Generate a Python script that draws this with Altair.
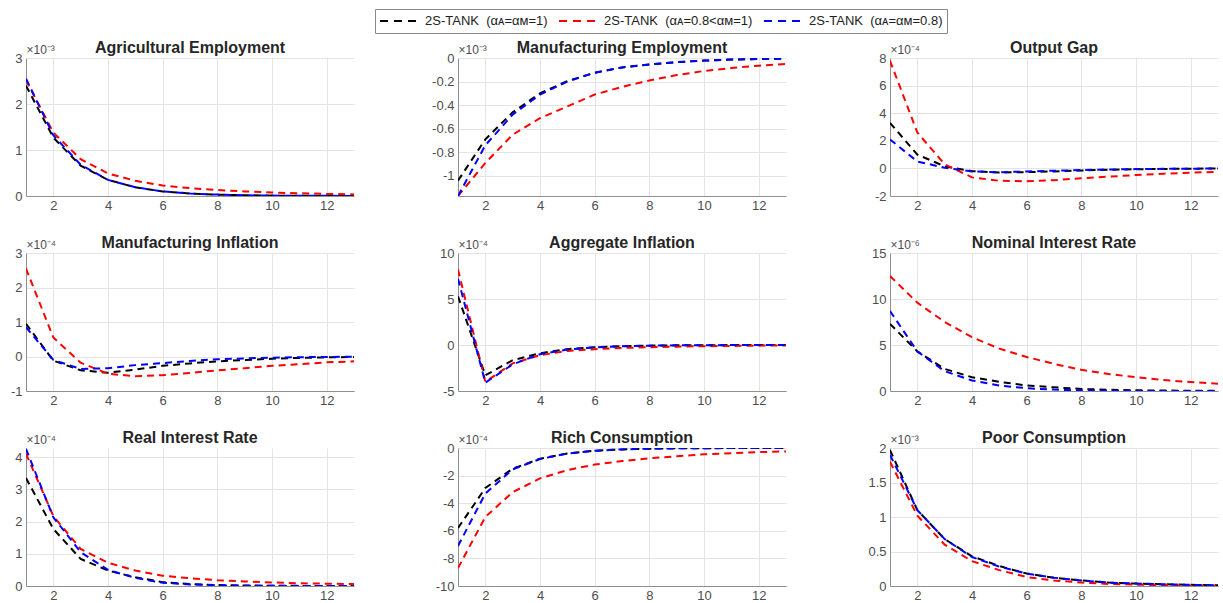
import altair as alt
import pandas as pd

# ---------------- data ----------------
periods = list(range(1, 14))
series_names = [
    "2S-TANK\u00a0 (\u03b1\u1d00=\u03b1\u1d0d=1)",
    "2S-TANK\u00a0 (\u03b1\u1d00=0.8<\u03b1\u1d0d=1)",
    "2S-TANK\u00a0 (\u03b1\u1d00=\u03b1\u1d0d=0.8)",
]
series_colors = ["#000000", "#ff0000", "#0000ff"]

panel_titles = [
    "Agricultural Employment", "Manufacturing Employment", "Output Gap",
    "Manufacturing Inflation", "Aggregate Inflation", "Nominal Interest Rate",
    "Real Interest Rate", "Rich Consumption", "Poor Consumption",
]
panel_exponents = ["\u207b\u00b3", "\u207b\u00b3", "\u207b\u2074",
                   "\u207b\u2074", "\u207b\u2074", "\u207b\u2076",
                   "\u207b\u2074", "\u207b\u2074", "\u207b\u00b3"]
panel_domains = [[0, 3], [-1.17, 0], [-2, 8],
                 [-1, 3], [-5, 10], [0, 15],
                 [0, 4.28], [-10, 0], [0, 2]]
panel_ticks = [[0, 1, 2, 3], [-1, -0.8, -0.6, -0.4, -0.2, 0], [-2, 0, 2, 4, 6, 8],
               [-1, 0, 1, 2, 3], [-5, 0, 5, 10], [0, 5, 10, 15],
               [0, 1, 2, 3, 4], [-10, -8, -6, -4, -2, 0], [0, 0.5, 1, 1.5, 2]]
x_ticks = [2, 4, 6, 8, 10, 12]

agri_black = [2.40, 1.27, 0.66, 0.35, 0.19, 0.10, 0.055, 0.030, 0.016, 0.009, 0.005, 0.003, 0.002]
agri_red   = [2.52, 1.38, 0.80, 0.49, 0.33, 0.23, 0.17, 0.13, 0.10, 0.075, 0.06, 0.045, 0.035]
agri_blue  = [2.55, 1.32, 0.68, 0.35, 0.19, 0.10, 0.055, 0.030, 0.016, 0.009, 0.005, 0.003, 0.002]

manu_black = [-1.04, -0.69, -0.46, -0.30, -0.195, -0.125, -0.08, -0.055, -0.035, -0.022, -0.013, -0.008, -0.005]
manu_red   = [-1.17, -0.89, -0.65, -0.51, -0.41, -0.31, -0.245, -0.19, -0.145, -0.11, -0.085, -0.065, -0.05]
manu_blue  = [-1.17, -0.74, -0.48, -0.31, -0.20, -0.125, -0.08, -0.055, -0.035, -0.022, -0.013, -0.008, -0.005]

gap_black = [3.3, 1.0, 0.15, -0.2, -0.3, -0.27, -0.22, -0.15, -0.10, -0.06, -0.04, -0.02, -0.01]
gap_red   = [7.8, 2.6, 0.3, -0.65, -0.9, -0.93, -0.85, -0.72, -0.6, -0.48, -0.38, -0.31, -0.25]
gap_blue  = [2.1, 0.5, 0.05, -0.22, -0.28, -0.22, -0.17, -0.12, -0.08, -0.05, -0.03, -0.02, -0.01]

minf_black = [0.95, -0.12, -0.40, -0.47, -0.38, -0.27, -0.20, -0.14, -0.10, -0.065, -0.04, -0.025, -0.015]
minf_red   = [2.55, 0.55, -0.18, -0.50, -0.57, -0.54, -0.48, -0.40, -0.34, -0.27, -0.22, -0.17, -0.14]
minf_blue  = [0.85, -0.10, -0.36, -0.34, -0.25, -0.19, -0.13, -0.08, -0.055, -0.035, -0.02, -0.012, -0.007]

agg_black = [5.3, -3.3, -1.65, -0.9, -0.45, -0.25, -0.13, -0.07, -0.04, -0.02, -0.01, -0.005, -0.003]
agg_red   = [8.2, -4.0, -2.0, -1.1, -0.65, -0.45, -0.32, -0.24, -0.18, -0.13, -0.10, -0.07, -0.05]
agg_blue  = [7.2, -4.1, -2.1, -1.0, -0.5, -0.25, -0.13, -0.07, -0.04, -0.02, -0.01, -0.005, -0.003]

nom_black = [7.3, 4.3, 2.4, 1.5, 1.0, 0.6, 0.4, 0.22, 0.13, 0.08, 0.05, 0.03, 0.02]
nom_red   = [12.5, 9.6, 7.5, 5.85, 4.6, 3.7, 2.95, 2.3, 1.85, 1.5, 1.2, 0.97, 0.8]
nom_blue  = [8.7, 4.3, 2.15, 1.15, 0.6, 0.3, 0.15, 0.07, 0.03, 0.01, 0.005, 0.002, 0.001]

real_black = [3.35, 1.77, 0.84, 0.48, 0.27, 0.12, 0.06, 0.03, 0.015, 0.008, 0.004, 0.002, 0.001]
real_red   = [4.1, 2.17, 1.15, 0.72, 0.48, 0.32, 0.24, 0.18, 0.14, 0.11, 0.085, 0.07, 0.06]
real_blue  = [4.25, 2.13, 1.05, 0.5, 0.25, 0.1, 0.05, 0.02, 0.01, 0.005, 0.002, 0.001, 0.0]

rich_black = [-5.8, -2.9, -1.5, -0.78, -0.4, -0.2, -0.1, -0.05, -0.025, -0.012, -0.006, -0.003, -0.002]
rich_red   = [-8.7, -5.0, -3.2, -2.2, -1.6, -1.2, -0.95, -0.75, -0.6, -0.46, -0.38, -0.3, -0.25]
rich_blue  = [-7.1, -3.3, -1.55, -0.8, -0.4, -0.2, -0.1, -0.05, -0.025, -0.012, -0.006, -0.003, -0.002]

poor_black = [1.97, 1.10, 0.68, 0.43, 0.29, 0.18, 0.12, 0.08, 0.05, 0.035, 0.025, 0.017, 0.01]
poor_red   = [1.80, 1.02, 0.60, 0.36, 0.23, 0.13, 0.08, 0.05, 0.03, 0.02, 0.01, 0.005, 0.003]
poor_blue  = [1.90, 1.10, 0.68, 0.42, 0.28, 0.18, 0.12, 0.08, 0.05, 0.035, 0.025, 0.017, 0.01]

panel_series = [
    (agri_black, agri_red, agri_blue),
    (manu_black, manu_red, manu_blue),
    (gap_black, gap_red, gap_blue),
    (minf_black, minf_red, minf_blue),
    (agg_black, agg_red, agg_blue),
    (nom_black, nom_red, nom_blue),
    (real_black, real_red, real_blue),
    (rich_black, rich_red, rich_blue),
    (poor_black, poor_red, poor_blue),
]

# ---------------- styling ----------------
FONT = "Liberation Sans"
PW, PH = 328, 138

legend = alt.Legend(
    orient="none", legendX=349, legendY=-49, direction="horizontal", title=None,
    strokeColor="#8a8a8a", fillColor="white", padding=4, clipHeight=16,
    symbolType="stroke", symbolSize=1600, symbolStrokeWidth=2, symbolDash=[8, 6],
    symbolOffset=0, labelOffset=4, labelFontSize=13, labelFont=FONT,
    labelColor="#222222", labelLimit=400, columnPadding=10,
)

color_scale = alt.Scale(domain=series_names, range=series_colors)


def make_panel(i):
    layers = []
    for name, vals in zip(series_names, panel_series[i]):
        df = pd.DataFrame({"x": periods, "y": vals, "series": name})
        layers.append(
            alt.Chart(df).mark_line(strokeDash=[7, 5], strokeWidth=2, clip=True).encode(
                x=alt.X("x:Q",
                        scale=alt.Scale(domain=[1, 13], nice=False, zero=False),
                        axis=alt.Axis(values=x_ticks, title=None, labelPadding=3)),
                y=alt.Y("y:Q",
                        scale=alt.Scale(domain=panel_domains[i], nice=False, zero=False),
                        axis=alt.Axis(values=panel_ticks[i],
                                      labelExpr="replace(format(datum.value, '~g'), '\u2212', '-')",
                                      title="\u00d710" + panel_exponents[i],
                                      titleAngle=0, titleAlign="left", titleBaseline="alphabetic",
                                      titleX=0, titleY=-5, titleFontSize=12,
                                      titleFontWeight="normal", titleColor="#4d4d4d",
                                      titleFont=FONT, labelPadding=4)),
                color=alt.Color("series:N", scale=color_scale, legend=legend),
            )
        )
    return alt.layer(*layers).properties(
        width=PW, height=PH,
        title=alt.TitleParams(panel_titles[i], fontSize=16, fontWeight="bold",
                              color="#262626", font=FONT, offset=-13, anchor="middle"),
    )


chart = alt.concat(
    *[make_panel(i) for i in range(9)],
    columns=3,
    spacing=alt.RowColnumber(row=57, column=104),
    bounds="flush",
).resolve_scale(
    x="independent", y="independent", color="shared"
).properties(
    padding={"left": 10, "top": 8, "right": 5, "bottom": 5},
    background="white",
).configure_view(
    stroke=None
).configure_axis(
    grid=True, gridColor="#e4e4e4", gridWidth=1,
    domainColor="#8f8f8f", domainWidth=1,
    ticks=False, labelFont=FONT, labelFontSize=13, labelColor="#4d4d4d",
)

chart.save("out.html", embed_options={"renderer": "svg", "actions": False})
